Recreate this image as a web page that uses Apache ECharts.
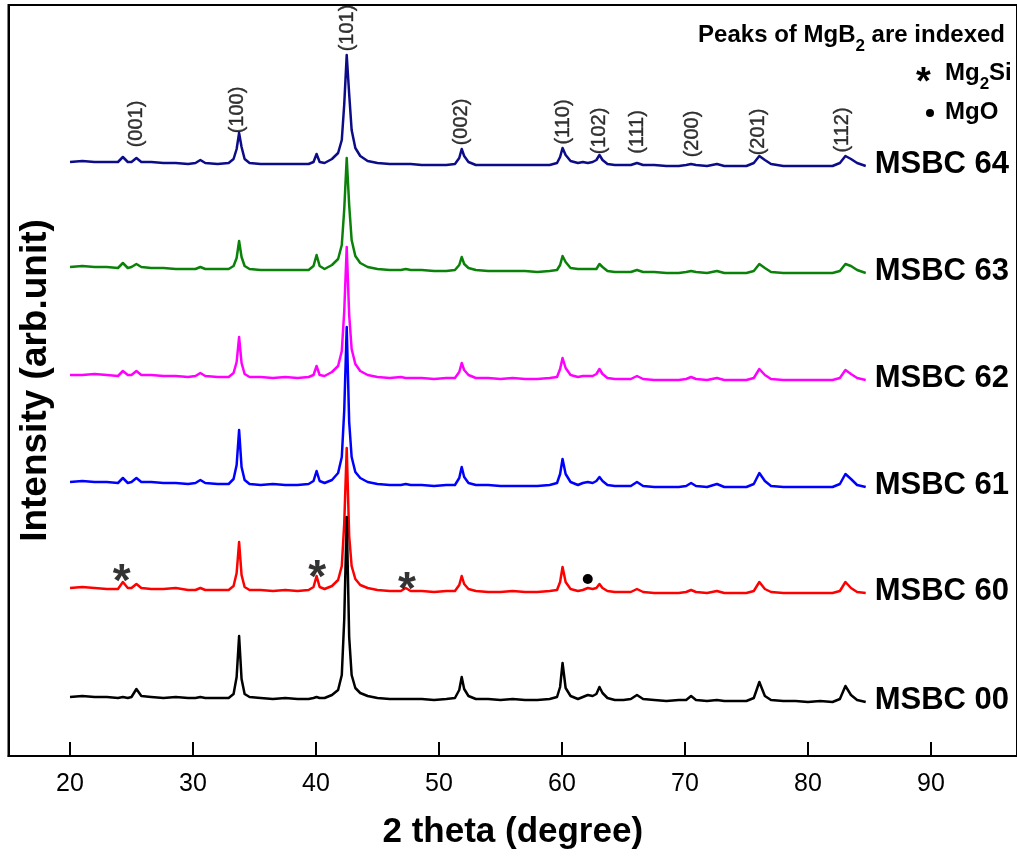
<!DOCTYPE html>
<html>
<head>
<meta charset="utf-8">
<script src="https://cdn.jsdelivr.net/npm/echarts@6/dist/echarts.min.js"></script>
<style>
html,body{margin:0;padding:0;background:#fff;}
#chart{width:1017px;height:856px;}
</style>
</head>
<body>
<div id="chart"></div>
<script>
// 2-theta sampling positions (degree)
const theta = [20.0,21.0,22.0,23.0,23.9,24.3,24.7,25.0,25.4,25.8,26.6,27.6,28.6,29.6,30.2,30.6,31.0,32.0,32.9,33.3,33.55,33.75,33.95,34.2,34.6,35.5,36.5,37.5,38.5,39.4,39.8,40.05,40.3,40.7,41.3,41.8,42.1,42.3,42.5,42.7,42.9,43.2,43.6,44.2,45.0,46.0,46.9,47.3,47.7,48.6,49.6,50.6,51.3,51.65,51.85,52.05,52.4,53.0,54.0,55.0,56.0,57.0,58.0,59.0,59.6,59.85,60.05,60.3,60.7,61.3,61.7,62.1,62.5,62.8,63.05,63.3,63.7,64.3,65.0,65.6,66.1,66.6,67.5,68.5,69.5,70.1,70.5,70.9,71.8,72.6,73.2,74.0,75.0,75.6,76.05,76.5,77.0,78.0,79.0,80.0,81.0,82.0,82.6,83.05,83.5,84.0,84.7];

// intensities relative to each pattern's own baseline (arb. unit)
const msbc64 = [0,1,0,0,0,5,0,0,4,0,0,-1,-1,-2,-1,2,-1,-2,-1,3,13,29,15,3,-1,-2,-2,-2,-2,-2,0,8,0,-1,3,9,22,58,107,68,32,14,6,1,-1,-2,-2,-2,-2,-3,-3,-3,-2,4,13,6,0,-3,-3,-3,-3,-3,-3,-3,-1,5,14,7,1,-1,0,-1,0,2,7,2,-2,-3,-3,-3,-1,-3,-3,-4,-4,-3,-2,-3,-4,-2,-4,-4,-4,-1,6,2,-2,-4,-4,-4,-4,-4,-1,6,3,-1,-4];
const msbc63 = [0,1,0,0,-1,4,-1,0,3,0,-1,-1,-2,-2,-2,0,-2,-2,-2,1,9,26,10,1,-2,-3,-3,-3,-3,-3,1,12,1,-2,2,8,22,58,109,62,27,11,4,0,-2,-3,-3,-2,-3,-3,-4,-4,-3,2,10,3,-1,-3,-4,-4,-4,-4,-5,-4,-3,2,11,5,-1,-2,-2,-2,-2,-2,3,0,-4,-5,-5,-5,-3,-5,-5,-6,-6,-5,-4,-5,-6,-4,-6,-6,-6,-4,3,-1,-5,-6,-6,-6,-6,-6,-4,3,1,-3,-6];
const msbc62 = [0,0,1,0,-1,4,0,0,4,0,0,-1,-1,-2,-1,2,-1,-2,-2,2,13,38,12,1,-2,-2,-3,-2,-3,-2,0,9,0,-1,3,9,24,64,128,60,26,11,4,0,-2,-3,-2,-3,-3,-3,-4,-3,-3,3,12,5,0,-3,-3,-4,-3,-4,-4,-3,-2,6,17,7,0,-2,-1,-1,-1,1,6,1,-3,-4,-4,-4,-1,-4,-5,-5,-5,-4,-2,-4,-5,-3,-5,-5,-5,-3,6,0,-4,-5,-5,-5,-5,-5,-3,5,1,-3,-5];
const msbc61 = [0,1,0,0,-1,4,-1,0,4,0,0,-1,-1,-2,-1,2,-1,-2,-2,3,17,52,15,2,-2,-3,-2,-3,-3,-2,1,11,1,-1,2,9,25,72,155,60,25,10,4,0,-2,-3,-3,-2,-3,-3,-4,-3,-3,4,15,5,-1,-3,-3,-4,-4,-4,-4,-3,-1,8,23,8,0,-3,-1,0,-1,1,5,1,-3,-4,-4,-4,0,-4,-5,-5,-5,-4,-1,-4,-5,-2,-5,-5,-5,-2,9,1,-4,-5,-5,-5,-5,-5,-2,8,3,-3,-5];
const msbc60 = [0,1,0,-1,-1,6,0,0,4,0,-1,-1,0,-2,-2,0,-2,-2,-2,2,15,46,13,1,-2,-2,-3,-2,-3,-2,1,12,1,-1,2,8,22,65,140,52,22,9,3,0,-2,-3,-3,0,-3,-3,-4,-3,-3,3,12,4,-1,-3,-4,-4,-3,-4,-4,-3,-2,6,21,6,-1,-3,-2,0,-1,0,4,0,-3,-4,-4,-4,-1,-4,-5,-5,-5,-4,-2,-4,-5,-3,-5,-5,-5,-3,6,-1,-4,-5,-5,-5,-5,-5,-3,6,0,-4,-5];
const msbc00 = [0,1,0,0,-1,0,-1,0,8,1,0,-1,0,-1,-1,0,-1,-1,-1,3,20,61,18,3,0,-1,-2,-1,-2,-2,-1,0,-1,-1,2,7,22,78,180,60,22,9,4,1,-1,-2,-2,-2,-2,-2,-3,-2,-1,7,20,8,1,-2,-2,-3,-2,-3,-3,-2,0,10,34,9,1,-2,0,2,1,3,10,4,-1,-3,-3,-2,2,-2,-3,-4,-3,-3,1,-3,-4,-3,-4,-4,-4,-1,15,1,-3,-4,-4,-5,-4,-5,-2,11,2,-3,-5];

const sampleNames = ['MSBC 64','MSBC 63','MSBC 62','MSBC 61','MSBC 60','MSBC 00'];
const sampleValues = [msbc64, msbc63, msbc62, msbc61, msbc60, msbc00];
const sampleOffsets = [594, 489, 381, 274, 168, 59];
const sampleColors = ['#0c0c88', '#0a820a', '#ff00ff', '#0000ff', '#ff0000', '#000000'];

// MgB2 reflections (labels)
const hklNames = ['(001)','(100)','(101)','(002)','(110)','(102)','(111)','(200)','(201)','(112)'];
const hklTheta = [25.4, 33.65, 42.6, 51.85, 60.1, 63.05, 66.15, 70.6, 76.0, 82.8];
const hklY = [632, 646, 728, 634, 634, 625, 624, 622, 624, 626];

// impurity markers on MSBC 60
const mg2siTheta = [24.2, 40.1, 47.4];
const mg2siY = [186, 190, 178];
const mgoTheta = [62.1];
const mgoY = [177];

const xTicks = [20, 30, 40, 50, 60, 70, 80, 90];

const F = '"Liberation Sans", Arial, sans-serif';

const chart = echarts.init(document.getElementById('chart'), null, {renderer: 'canvas'});

const lineSeries = sampleNames.map((name, k) => ({
  type: 'line',
  name: name,
  data: theta.map((t, i) => [t, sampleOffsets[k] + sampleValues[k][i]]),
  showSymbol: false,
  symbol: 'none',
  lineStyle: {color: sampleColors[k], width: 2.5, join: 'round'},
  itemStyle: {color: sampleColors[k]},
  silent: true,
  endLabel: {
    show: true,
    formatter: '{a}',
    distance: 0,
    offset: [9, -2],
    color: '#000',
    fontFamily: F,
    fontSize: 31,
    fontWeight: 'bold'
  }
}));

const hidden = {color: 'rgba(0,0,0,0)'};

const option = {
  animation: false,
  backgroundColor: '#fff',
  grid: {
    left: 8.5, right: -1.5, top: 5, bottom: 100,
    show: true, borderColor: '#000', borderWidth: 2, backgroundColor: 'transparent'
  },
  xAxis: {
    type: 'value',
    min: 15, max: 97,
    name: '2 theta (degree)',
    nameLocation: 'middle',
    nameGap: 59,
    nameTextStyle: {fontFamily: F, fontSize: 35, fontWeight: 'bold', color: '#000'},
    axisLine: {show: true, onZero: false, lineStyle: {color: '#000', width: 2}},
    axisTick: {show: true, inside: true, length: 14, customValues: xTicks, lineStyle: {color: '#000', width: 2}},
    axisLabel: {show: true, customValues: xTicks, margin: 16, fontFamily: F, fontSize: 25, color: '#000'},
    splitLine: {show: false}
  },
  yAxis: {
    type: 'value',
    min: 0, max: 751,
    name: 'Intensity (arb.unit)',
    nameLocation: 'middle',
    nameRotate: 90,
    nameGap: -46,
    nameTextStyle: {fontFamily: F, fontSize: 37, fontWeight: 'bold', color: '#000'},
    axisLine: {show: true, onZero: false, lineStyle: {color: '#000', width: 2}},
    axisTick: {show: false},
    axisLabel: {show: false},
    splitLine: {show: false}
  },
  series: lineSeries.concat([
    {
      type: 'scatter',
      symbol: 'circle',
      symbolSize: 1,
      itemStyle: hidden,
      silent: true,
      data: hklTheta.map((t, i) => ({name: hklNames[i], value: [t, hklY[i]]})),
      label: {show: true, position: 'inside', rotate: 90, formatter: '{b}', fontFamily: F, fontSize: 20, color: '#000', textBorderColor: '#000', textBorderWidth: 0.4},
      z: 5
    },
    {
      type: 'scatter',
      symbol: 'circle',
      symbolSize: 1,
      itemStyle: hidden,
      silent: true,
      data: mg2siTheta.map((t, i) => [t, mg2siY[i]]),
      label: {show: true, position: 'inside', formatter: '*', offset: [0, 13], fontFamily: F, fontSize: 46, fontWeight: 'bold', color: '#000'},
      z: 5
    },
    {
      type: 'scatter',
      symbol: 'circle',
      symbolSize: 10,
      silent: true,
      itemStyle: {color: '#000', opacity: 1},
      data: mgoTheta.map((t, i) => [t, mgoY[i]]),
      z: 5
    }
  ]),
  graphic: [
    {
      type: 'text', right: 12, top: 23, silent: true,
      style: {
        text: '{a|Peaks of MgB}{s|2}{a| are indexed}',
        rich: {
          a: {fontFamily: F, fontSize: 24, fontWeight: 'bold', lineHeight: 24, verticalAlign: 'top', color: '#000'},
          s: {fontFamily: F, fontSize: 17, fontWeight: 'bold', lineHeight: 17, verticalAlign: 'top', padding: [15, 0, 0, 0], color: '#000'}
        }
      }
    },
    {
      type: 'text', left: 945, top: 61, silent: true,
      style: {
        text: '{a|Mg}{s|2}{a|Si}',
        rich: {
          a: {fontFamily: F, fontSize: 24, fontWeight: 'bold', lineHeight: 24, verticalAlign: 'top', color: '#000'},
          s: {fontFamily: F, fontSize: 17, fontWeight: 'bold', lineHeight: 17, verticalAlign: 'top', padding: [15, 0, 0, 0], color: '#000'}
        }
      }
    },
    {
      type: 'text', left: 916, top: 65, silent: true,
      style: {text: '*', fontFamily: F, fontSize: 38, fontWeight: 'bold', fill: '#000'}
    },
    {
      type: 'circle', silent: true,
      shape: {cx: 930, cy: 113, r: 4},
      style: {fill: '#000'}
    },
    {
      type: 'text', left: 945, top: 100, silent: true,
      style: {text: 'MgO', fontFamily: F, fontSize: 24, fontWeight: 'bold', fill: '#000'}
    }
  ]
};

chart.setOption(option);
</script>
</body>
</html>
